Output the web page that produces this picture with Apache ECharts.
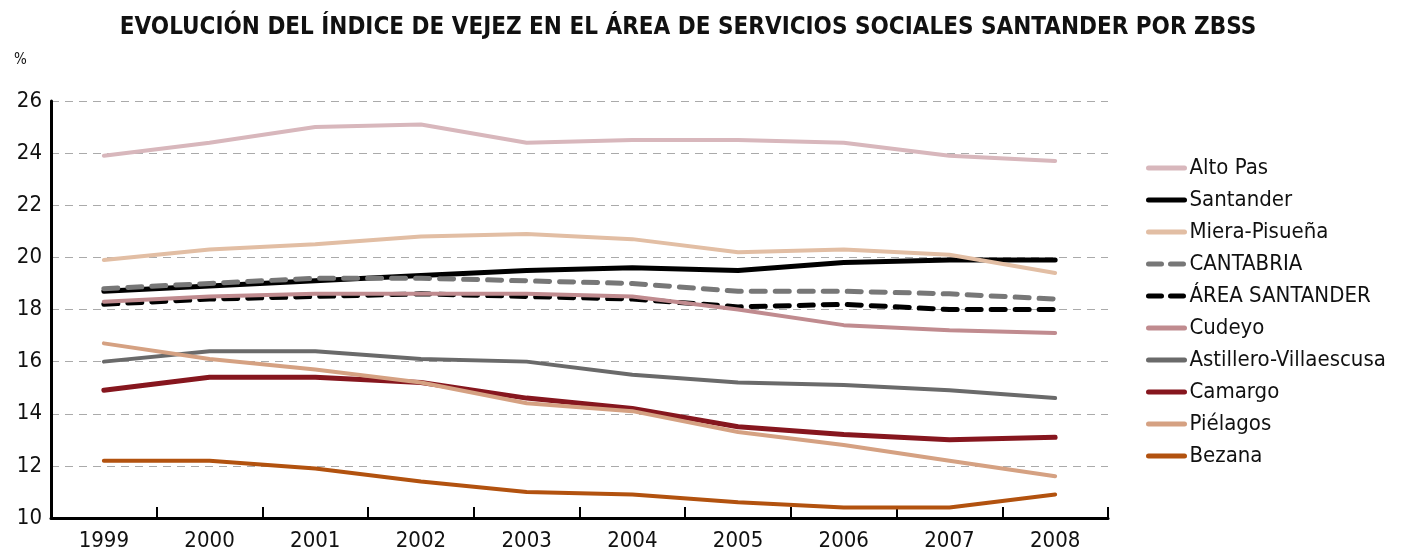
<!DOCTYPE html>
<html>
<head>
<meta charset="utf-8">
<script src="https://cdn.jsdelivr.net/npm/echarts@6/dist/echarts.min.js"></script>
<style>
  html, body { margin: 0; padding: 0; background: #fff; }
  #chart { width: 1404px; height: 553px; }
</style>
</head>
<body>
<div id="chart"></div>
<script>
var myChart = echarts.init(document.getElementById('chart'));

var years = ['1999', '2000', '2001', '2002', '2003', '2004', '2005', '2006', '2007', '2008'];

var altoPas = [23.9, 24.4, 25.0, 25.1, 24.4, 24.5, 24.5, 24.4, 23.9, 23.7];
var santander = [18.7, 18.9, 19.1, 19.3, 19.5, 19.6, 19.5, 19.8, 19.9, 19.9];
var mieraPisuena = [19.9, 20.3, 20.5, 20.8, 20.9, 20.7, 20.2, 20.3, 20.1, 19.4];
var cantabria = [18.8, 19.0, 19.2, 19.2, 19.1, 19.0, 18.7, 18.7, 18.6, 18.4];
var areaSantander = [18.2, 18.4, 18.5, 18.6, 18.5, 18.4, 18.1, 18.2, 18.0, 18.0];
var cudeyo = [18.3, 18.5, 18.6, 18.6, 18.6, 18.5, 18.0, 17.4, 17.2, 17.1];
var astillero = [16.0, 16.4, 16.4, 16.1, 16.0, 15.5, 15.2, 15.1, 14.9, 14.6];
var camargo = [14.9, 15.4, 15.4, 15.2, 14.6, 14.2, 13.5, 13.2, 13.0, 13.1];
var pielagos = [16.7, 16.1, 15.7, 15.2, 14.4, 14.1, 13.3, 12.8, 12.2, 11.6];
var bezana = [12.2, 12.2, 11.9, 11.4, 11.0, 10.9, 10.6, 10.4, 10.4, 10.9];

var font = 'DejaVu Sans Condensed';
var dash = [14, 10];

var seriesList = [];
var legendItems = [];

function line(name, data, color, width, type) {
    seriesList.push({
        name: name,
        type: 'line',
        data: data,
        symbol: 'none',
        lineStyle: { color: color, width: width, type: type || 'solid', cap: 'round' },
        itemStyle: { color: color },
        emphasis: { disabled: true }
    });
    // legend icon: plain line (dashed where the series is dashed), no symbol
    legendItems.push({
        name: name,
        itemStyle: { opacity: 0 },
        lineStyle: { color: color, width: 5, type: type ? [13, 9] : 'solid', cap: 'round' }
    });
}

line('Alto Pas', altoPas, '#D8B7BC', 4);
line('Santander', santander, '#000000', 5);
line('Miera-Pisueña', mieraPisuena, '#E2BEA4', 4);
line('CANTABRIA', cantabria, '#777777', 5, dash);
line('ÁREA SANTANDER', areaSantander, '#000000', 5, dash);
line('Cudeyo', cudeyo, '#C08B8F', 4);
line('Astillero-Villaescusa', astillero, '#6A6A6A', 4);
line('Camargo', camargo, '#86161E', 5);
line('Piélagos', pielagos, '#D5A182', 4);
line('Bezana', bezana, '#B2520F', 4);

var option = {
    animation: false,
    backgroundColor: '#fff',
    title: {
        text: 'EVOLUCIÓN DEL ÍNDICE DE VEJEZ EN EL ÁREA DE SERVICIOS SOCIALES SANTANDER POR ZBSS',
        left: 683,
        textAlign: 'center',
        top: 11,
        textStyle: { fontFamily: font, fontWeight: 'bold', fontSize: 24, color: '#111' }
    },
    graphic: [{
        type: 'text',
        left: 14,
        top: 53,
        style: { text: '%', fontFamily: font, fontSize: 15, fill: '#111' }
    }],
    legend: {
        orient: 'vertical',
        left: 1141,
        top: 152,
        itemWidth: 36,
        itemHeight: 14,
        itemGap: 10,
        textStyle: { fontFamily: font, fontSize: 22, lineHeight: 22, color: '#111' },
        data: legendItems
    },
    grid: { left: 51, right: 296, top: 101, bottom: 35 },
    xAxis: {
        type: 'category',
        data: years,
        axisLine: { lineStyle: { color: '#000', width: 3 } },
        axisTick: { show: true, inside: true, length: 11, lineStyle: { color: '#000', width: 2 } },
        axisLabel: { fontFamily: font, fontSize: 22, color: '#111', margin: 12 }
    },
    yAxis: {
        type: 'value',
        min: 10,
        max: 26,
        interval: 2,
        axisLine: { show: true, lineStyle: { color: '#000', width: 3 } },
        axisTick: { show: false },
        axisLabel: { fontFamily: font, fontSize: 22, color: '#111', margin: 9 },
        splitLine: { lineStyle: { color: '#aaa', width: 1, type: [8, 6] } }
    },
    series: seriesList
};

myChart.setOption(option);
</script>
</body>
</html>
